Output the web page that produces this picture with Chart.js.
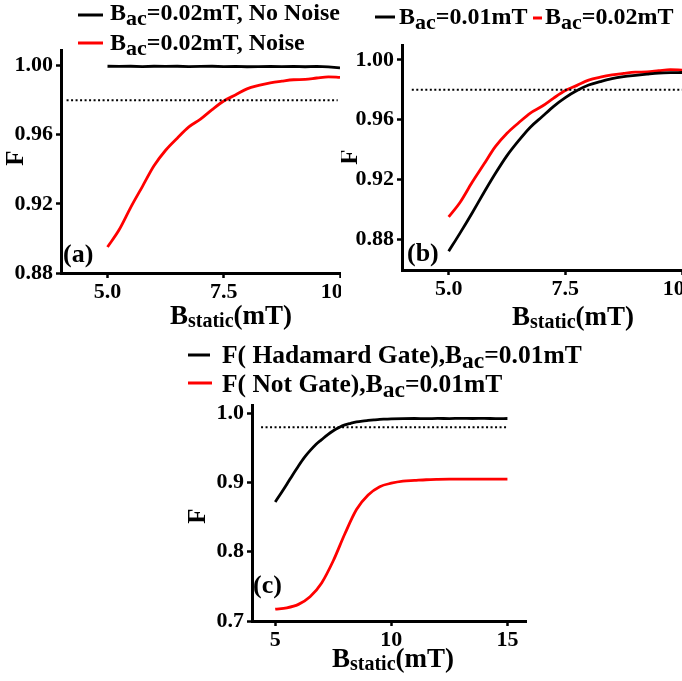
<!DOCTYPE html>
<html>
<head>
<meta charset="UTF-8" />
<script src="https://cdn.jsdelivr.net/npm/chart.js@4.4.1/dist/chart.umd.min.js"></script>
<style>
 * { margin: 0; padding: 0; box-sizing: border-box; }
 body { width: 682px; height: 681px; background: #fff; position: relative; overflow: hidden; }
 canvas { position: absolute; }
 #chartA { left: 0; top: 0; }
 #chartB { left: 341px; top: 0; background: #fff; }
 #chartC { left: 160px; top: 335px; }
</style>
</head>
<body>
<canvas id="chartA" width="341" height="335"></canvas>
<canvas id="chartB" width="341" height="335"></canvas>
<canvas id="chartC" width="522" height="346"></canvas>

<script>
// --- dados ---
const bStatic = [5.0, 5.25, 5.5, 5.75, 6.0, 6.25, 6.5, 6.75, 7.0, 7.25, 7.5, 7.75, 8.0, 8.25, 8.5, 8.75, 9.0, 9.25, 9.5, 9.75, 10.0]
const fNoNoise = [0.9996, 0.9995, 0.9996, 0.9994, 0.9996, 0.9995, 0.9996, 0.9994, 0.9995, 0.9996, 0.9994, 0.9995, 0.9993, 0.9994, 0.9995, 0.9994, 0.9995, 0.9993, 0.9995, 0.9992, 0.9987]
const fBac02 = [0.895, 0.905, 0.918, 0.930, 0.942, 0.951, 0.958, 0.9645, 0.969, 0.9745, 0.9795, 0.983, 0.9865, 0.9885, 0.990, 0.991, 0.9918, 0.992, 0.9928, 0.9935, 0.9932]
const fBac01 = [0.872, 0.8845, 0.8975, 0.911, 0.924, 0.936, 0.946, 0.955, 0.962, 0.969, 0.9748, 0.9795, 0.9832, 0.9855, 0.9875, 0.9888, 0.9897, 0.9905, 0.9912, 0.9915, 0.9916]

// painel (c): 5 a 15 mT
const bStaticH = [5.0, 5.25, 5.5, 5.75, 6.0, 6.25, 6.5, 6.75, 7.0, 7.25, 7.5, 7.75, 8.0, 8.25, 8.5, 8.75, 9.0, 9.25, 9.5, 9.75, 10.0, 10.5, 11.0, 11.5, 12.0, 12.5, 13.0, 13.5, 14.0, 14.5, 15.0]
const fHadamard = [0.872, 0.8845, 0.8975, 0.911, 0.924, 0.936, 0.946, 0.955, 0.962, 0.969, 0.9748, 0.9795, 0.9832, 0.9855, 0.9875, 0.9888, 0.9897, 0.9905, 0.9912, 0.9916, 0.9920, 0.9924, 0.9925, 0.9923, 0.9926, 0.9924, 0.9927, 0.9925, 0.9926, 0.9924, 0.9925]
const bStaticN = [5.0, 5.5, 6.0, 6.5, 7.0, 7.5, 8.0, 8.5, 9.0, 9.5, 10.0, 10.5, 11.0, 11.5, 12.0, 12.5, 13.0, 13.5, 14.0, 14.5, 15.0]
const fNotGate = [0.717, 0.719, 0.724, 0.735, 0.755, 0.787, 0.826, 0.861, 0.882, 0.894, 0.899, 0.902, 0.903, 0.904, 0.9045, 0.9048, 0.905, 0.905, 0.905, 0.905, 0.905]

const threshold = 0.98
const ticksXA = [5.0, 7.5, 10.0]
const ticksYA = [0.88, 0.92, 0.96, 1.00]
const ticksXC = [5, 10, 15]
const ticksYC = [0.7, 0.8, 0.9, 1.0]

const FONT = '"Liberation Serif", "DejaVu Serif", serif'

const pts = (xs, ys) => xs.map((x, i) => ({ x: x, y: ys[i] }))

// escreve texto com partes subscritas (B_ac, B_static)
function rich(ctx, x, y, parts, color) {
 ctx.fillStyle = color || '#000'
 ctx.textAlign = 'left'
 ctx.textBaseline = 'alphabetic'
 for (const [t, size, dy] of parts) {
  ctx.font = 'bold ' + size + 'px ' + FONT
  ctx.fillText(t, x, y + (dy || 0))
  x += ctx.measureText(t).width
 }
}

function seg(ctx, x1, x2, y, color) {
 ctx.strokeStyle = color
 ctx.lineWidth = 3
 ctx.beginPath()
 ctx.moveTo(x1, y)
 ctx.lineTo(x2, y)
 ctx.stroke()
}

function yTitle(ctx, cx, cy) {
 ctx.save()
 ctx.translate(cx, cy)
 ctx.rotate(-Math.PI / 2)
 ctx.font = 'bold 25px ' + FONT
 ctx.fillStyle = '#000'
 ctx.textAlign = 'center'
 ctx.textBaseline = 'middle'
 ctx.fillText('F', 0, 0)
 ctx.restore()
}

function xTitle(ctx, x, y) {
 rich(ctx, x, y, [['B', 27], ['static', 20, 3], ['(mT)', 27]])
}

const bac = (v, s) => [['B', s || 24], ['ac', (s || 24) - 2, 5], [v, s || 24]]

const textPlugin = draw => ({
 id: 'textos',
 afterDraw: chart => {
  const ctx = chart.ctx
  ctx.save()
  draw(ctx)
  ctx.restore()
 }
})

function lineSet(data, color, extra) {
 return Object.assign({
  data: data,
  borderColor: color,
  borderWidth: 2.8,
  pointRadius: 0,
  fill: false,
  tension: 0
 }, extra || {})
}

const smooth = { cubicInterpolationMode: 'monotone' }

function dotted(x0, x1) {
 return lineSet([{ x: x0, y: threshold }, { x: x1, y: threshold }], '#000', { borderWidth: 2, borderDash: [2, 2.5] })
}

function axes(o) {
 const tickFont = { family: FONT, weight: 'bold', size: 22 }
 return {
  x: {
   type: 'linear',
   min: o.xmin,
   max: o.xmax,
   afterBuildTicks: s => { s.ticks = o.xticks.map(v => ({ value: v })) },
   afterFit: s => { s.height = o.xh; s.paddingLeft = 0; s.paddingRight = 0 },
   ticks: { font: tickFont, color: '#000', padding: 1, maxRotation: 0, callback: o.xfmt },
   grid: { drawOnChartArea: false, drawTicks: true, tickLength: 5, tickWidth: 2.5, tickColor: '#000' },
   border: { display: true, color: '#000', width: 3 }
  },
  y: {
   type: 'linear',
   min: o.ymin,
   max: o.ymax,
   afterBuildTicks: s => { s.ticks = o.yticks.map(v => ({ value: v })) },
   afterFit: s => { s.width = o.yw; s.paddingTop = 0; s.paddingBottom = 0 },
   ticks: { font: tickFont, color: '#000', padding: 3, callback: o.yfmt },
   grid: { drawOnChartArea: false, drawTicks: true, tickLength: 5, tickWidth: 2.5, tickColor: '#000' },
   border: { display: true, color: '#000', width: 3 }
  }
 }
}

const baseOpts = (pad, scales) => ({
 responsive: false,
 animation: false,
 layout: { padding: pad },
 plugins: { legend: { display: false }, tooltip: { enabled: false } },
 scales: scales
})

// (a)
new Chart(document.getElementById('chartA'), {
 type: 'line',
 data: {
  datasets: [
   dotted(4.12, 9.95),
   lineSet(pts(bStatic, fNoNoise), '#000'),
   lineSet(pts(bStatic, fBac02), '#ff0000', smooth)
  ]
 },
 options: baseOpts({ left: 0, right: 1, top: 50, bottom: 0 }, axes({
  xmin: 4, xmax: 10, ymin: 0.88, ymax: 1.009, xticks: ticksXA, yticks: ticksYA,
  xh: 62, yw: 61, xfmt: v => v.toFixed(1), yfmt: v => v.toFixed(2)
 })),
 plugins: [textPlugin(ctx => {
  seg(ctx, 78, 103, 15, '#000')
  rich(ctx, 110, 19.5, bac('=0.02mT, No Noise'))
  seg(ctx, 78, 103, 43, '#ff0000')
  rich(ctx, 110, 50, bac('=0.02mT, Noise'))
  yTitle(ctx, 17, 158)
  xTitle(ctx, 170, 324)
  rich(ctx, 63, 262, [['(a)', 26]])
 })]
})

// (b)
new Chart(document.getElementById('chartB'), {
 type: 'line',
 data: {
  datasets: [
   dotted(4.21, 10),
   lineSet(pts(bStatic, fBac01), '#000', smooth),
   lineSet(pts(bStatic, fBac02), '#ff0000', smooth)
  ]
 },
 options: baseOpts({ left: 0, right: 0, top: 45, bottom: 0 }, axes({
  xmin: 4, xmax: 10, ymin: 0.8595, ymax: 1.01, xticks: ticksXA, yticks: ticksYA,
  xh: 65, yw: 61, xfmt: v => v.toFixed(1), yfmt: v => v.toFixed(2)
 })),
 plugins: [textPlugin(ctx => {
  seg(ctx, 34, 54, 17, '#000')
  rich(ctx, 58, 24, bac('=0.01mT'))
  seg(ctx, 192, 201, 18, '#ff0000')
  rich(ctx, 204, 24, bac('=0.02mT'))
  yTitle(ctx, 10, 157)
  xTitle(ctx, 171, 325)
  rich(ctx, 66, 261, [['(b)', 26]])
 })]
})

// (c)
new Chart(document.getElementById('chartC'), {
 type: 'line',
 data: {
  datasets: [
   dotted(4.39, 15),
   lineSet(pts(bStaticH, fHadamard), '#000', smooth),
   lineSet(pts(bStaticN, fNotGate), '#ff0000', smooth)
  ]
 },
 options: baseOpts({ left: 0, right: 156, top: 70, bottom: 0 }, axes({
  xmin: 4, xmax: 15.8, ymin: 0.7, ymax: 1.012, xticks: ticksXC, yticks: ticksYC,
  xh: 60, yw: 92, xfmt: v => String(v), yfmt: v => v.toFixed(1)
 })),
 plugins: [textPlugin(ctx => {
  seg(ctx, 28, 50, 20, '#000')
  rich(ctx, 62, 28, [['F( Hadamard Gate),', 25.5], ...bac('=0.01mT', 25.5)])
  seg(ctx, 28, 52, 48, '#ff0000')
  rich(ctx, 62, 57, [['F( Not Gate),', 25.5], ...bac('=0.01mT', 25.5)])
  yTitle(ctx, 39, 181)
  xTitle(ctx, 172, 332)
  rich(ctx, 93, 258, [['(c)', 26]])
 })]
})
</script>
</body>
</html>
